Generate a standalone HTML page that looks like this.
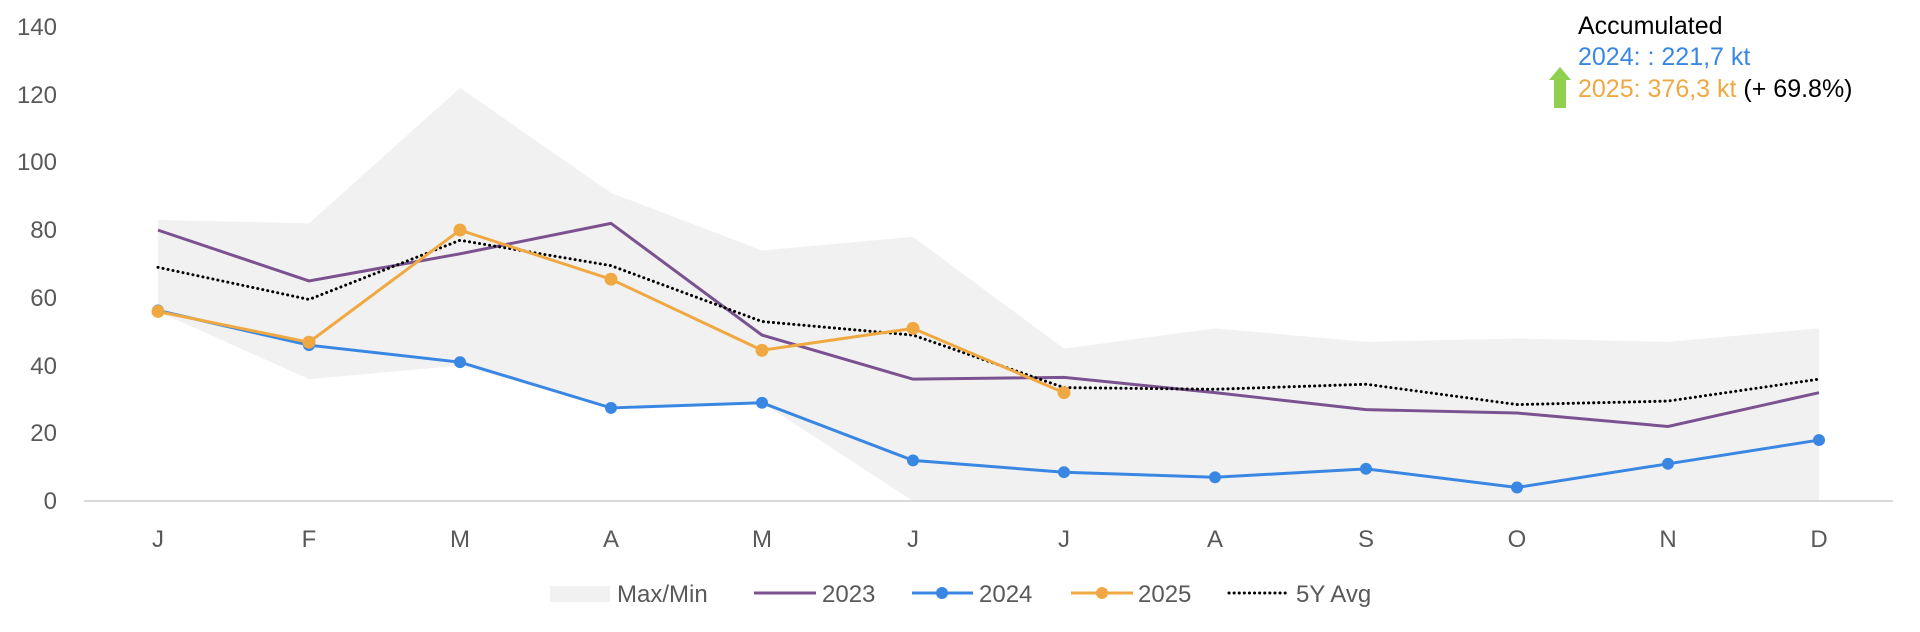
<!DOCTYPE html>
<html><head><meta charset="utf-8"><style>
html,body{margin:0;padding:0;background:#fff;}
svg{display:block;font-family:"Liberation Sans",sans-serif;}
</style></head><body>
<svg width="1920" height="632" viewBox="0 0 1920 632" xmlns="http://www.w3.org/2000/svg">
<g transform="matrix(1 0 0 0.99224 0 -3.06)">
<polygon fill="#f1f1f1" points="158,224.8 309,228.2 460,91.7 611,197.5 762,255.5 913,241.8 1064,354.4 1215,334 1366,347.6 1517,344.2 1668,347.6 1819,334 1819,508 1668,508 1517,508 1366,508 1215,508 1064,508 913,508 762,409 611,414.2 460,371.5 309,385.2 158,317"/>
<polyline fill="none" stroke="#7b5290" stroke-width="3" points="158,235 309,286.2 460,258.9 611,228.2 762,340.8 913,385.2 1064,383.4 1215,398.8 1366,415.9 1517,419.3 1668,432.9 1819,398.8"/>
<polyline fill="none" stroke="#000" stroke-width="3" stroke-dasharray="0.1,5" stroke-linecap="round" points="158,272.5 309,304.9 460,245.2 611,270.8 762,327.1 913,340.8 1064,393.7 1215,395.4 1366,390.3 1517,410.8 1668,407.3 1819,385.2"/>
<polyline fill="none" stroke="#3a87e3" stroke-width="3" points="158,316 309,351 460,368.1 611,414.2 762,409 913,467.1 1064,479 1215,484.1 1366,475.6 1517,494.4 1668,470.5 1819,446.6"/>
<g fill="#3a87e3">
<circle cx="158" cy="316" r="6"/><circle cx="309" cy="351" r="6"/><circle cx="460" cy="368.1" r="6"/><circle cx="611" cy="414.2" r="6"/><circle cx="762" cy="409" r="6"/><circle cx="913" cy="467.1" r="6"/><circle cx="1064" cy="479" r="6"/><circle cx="1215" cy="484.1" r="6"/><circle cx="1366" cy="475.6" r="6"/><circle cx="1517" cy="494.4" r="6"/><circle cx="1668" cy="470.5" r="6"/><circle cx="1819" cy="446.6" r="6"/>
</g>
<polyline fill="none" stroke="#f0a942" stroke-width="3" points="158,317 309,348 460,235 611,284.5 762,356.1 913,334 1064,398.8"/>
<g fill="#f0a942">
<circle cx="158" cy="317" r="6.5"/><circle cx="309" cy="348" r="6.5"/><circle cx="460" cy="235" r="6.5"/><circle cx="611" cy="284.5" r="6.5"/><circle cx="762" cy="356.1" r="6.5"/><circle cx="913" cy="334" r="6.5"/><circle cx="1064" cy="398.8" r="6.5"/>
</g>
</g>
<line x1="84" y1="501" x2="1893" y2="501" stroke="#d9d9d9" stroke-width="2"/>
<g fill="#595959" font-size="24" text-anchor="end">
<text x="57" y="35">140</text><text x="57" y="103">120</text><text x="57" y="170">100</text>
<text x="57" y="238">80</text><text x="57" y="306">60</text><text x="57" y="374">40</text>
<text x="57" y="441">20</text><text x="57" y="509">0</text>
</g>
<g fill="#595959" font-size="24" text-anchor="middle">
<text x="158" y="547">J</text><text x="309" y="547">F</text><text x="460" y="547">M</text>
<text x="611" y="547">A</text><text x="762" y="547">M</text><text x="913" y="547">J</text>
<text x="1064" y="547">J</text><text x="1215" y="547">A</text><text x="1366" y="547">S</text>
<text x="1517" y="547">O</text><text x="1668" y="547">N</text><text x="1819" y="547">D</text>
</g>
<rect x="550" y="586" width="60" height="16" fill="#f1f1f1"/>
<text x="617" y="602" font-size="24" fill="#595959">Max/Min</text>
<line x1="754" y1="593" x2="816" y2="593" stroke="#7b5290" stroke-width="3"/>
<text x="822" y="602" font-size="24" fill="#595959">2023</text>
<line x1="912" y1="593" x2="973" y2="593" stroke="#3a87e3" stroke-width="3"/>
<circle cx="942" cy="593" r="6" fill="#3a87e3"/>
<text x="979" y="602" font-size="24" fill="#595959">2024</text>
<line x1="1071" y1="593" x2="1133" y2="593" stroke="#f0a942" stroke-width="3"/>
<circle cx="1102" cy="593" r="6" fill="#f0a942"/>
<text x="1138" y="602" font-size="24" fill="#595959">2025</text>
<line x1="1229" y1="593" x2="1290" y2="593" stroke="#000" stroke-width="3" stroke-dasharray="0.1,5" stroke-linecap="round"/>
<text x="1296" y="602" font-size="24" fill="#595959">5Y Avg</text>
<text x="1578" y="34" font-size="25" fill="#000">Accumulated</text>
<text x="1578" y="65" font-size="25" fill="#3a87e3">2024: : 221,7 kt</text>
<text x="1578" y="97" font-size="25"><tspan fill="#f0a942">2025: 376,3 kt</tspan><tspan fill="#000"> (+ 69.8%)</tspan></text>
<polygon fill="#8fd14f" points="1560,67 1571,80 1566,80 1566,108 1554,108 1554,80 1549,80"/>
</svg>
</body></html>
